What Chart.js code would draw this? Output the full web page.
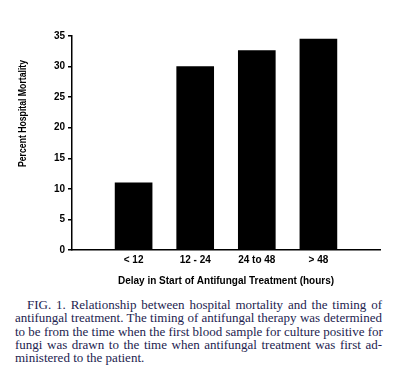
<!DOCTYPE html>
<html>
<head>
<meta charset="utf-8">
<script src="https://cdn.jsdelivr.net/npm/chart.js@4.4.0/dist/chart.umd.min.js"></script>
<style>
    body { margin: 0; background: #ffffff; }
    #quadro { position: relative; width: 411px; height: 372px; overflow: hidden; }
    #grafico-box { position: absolute; left: 0; top: 0; width: 411px; height: 290px; }
    #legenda {
        position: absolute; left: 15px; top: 298px; width: 367px;
        font-family: "Liberation Serif", "Times New Roman", serif;
        font-size: 13px; line-height: 13.3px; color: #23234f;
    }
    #legenda div { white-space: nowrap; text-align: justify; text-align-last: justify; }
    #legenda div.ultima { text-align-last: left; }
    #legenda div.primeira { margin-left: 12px; }
</style>
</head>
<body>
<div id="quadro">
    <div id="grafico-box"><canvas id="grafico"></canvas></div>
    <div id="legenda">
        <div class="primeira">FIG. 1. Relationship between hospital mortality and the timing of</div>
        <div>antifungal treatment. The timing of antifungal therapy was determined</div>
        <div>to be from the time when the first blood sample for culture positive for</div>
        <div>fungi was drawn to the time when antifungal treatment was first ad-</div>
        <div class="ultima">ministered to the patient.</div>
    </div>
</div>
<script>
let categorias = ['< 12', '12 - 24', '24 to 48', '> 48'];
let mortalidade = [11, 30, 32.6, 34.5];
let ticksY = [0, 5, 10, 15, 20, 25, 30, 35];

let tituloY = 'Percent Hospital Mortality';
let tituloX = 'Delay in Start of Antifungal Treatment (hours)';

// eixo x com uma posicao vazia em cada ponta, como no original
let rotulos = [''].concat(categorias).concat(['']);
let valores = [null].concat(mortalidade).concat([null]);

Chart.defaults.font.family = '"Liberation Sans", Arial, sans-serif';
Chart.defaults.color = '#000000';

// titulo do eixo y desenhado a mao (fica mais para cima e comprimido no original)
let pluginTituloY = {
    id: 'tituloY',
    afterDraw: function (chart) {
        let ctx = chart.ctx;
        let area = chart.chartArea;
        ctx.save();
        ctx.font = 'bold 11px "Liberation Sans", Arial, sans-serif';
        ctx.fillStyle = '#000000';
        ctx.textAlign = 'center';
        ctx.textBaseline = 'middle';
        let largura = ctx.measureText(tituloY).width;
        ctx.translate(22.5, area.top + 77.5);
        ctx.rotate(-Math.PI / 2);
        ctx.scale(107 / largura, 1);
        ctx.fillText(tituloY, 0, 0);
        ctx.restore();
    }
};

let config = {
    type: 'bar',
    data: {
        labels: rotulos,
        datasets: [{
            label: 'Mortalidade',
            data: valores,
            backgroundColor: '#000000',
            borderWidth: 0,
            barThickness: 37
        }]
    },
    options: {
        responsive: true,
        maintainAspectRatio: false,
        animation: false,
        layout: {
            padding: { left: 0, right: 31, top: 36, bottom: 0 }
        },
        plugins: {
            legend: { display: false },
            tooltip: { enabled: false },
            title: { display: false }
        },
        scales: {
            x: {
                type: 'category',
                offset: false,
                grid: { display: false, drawTicks: false, tickLength: 0 },
                border: { display: true, color: '#000000', width: 1.5 },
                ticks: {
                    font: { size: 10, weight: 'bold' },
                    color: '#000000',
                    padding: 4,
                    maxRotation: 0,
                    autoSkip: false
                },
                title: {
                    display: true,
                    text: tituloX,
                    font: { size: 10, weight: 'bold' },
                    color: '#000000',
                    padding: { top: 6, bottom: 3 }
                },
                afterFit: function (escala) {
                    escala.height = 40;
                }
            },
            y: {
                min: 0,
                max: 35,
                afterBuildTicks: function (escala) {
                    escala.ticks = ticksY.map(function (v) { return { value: v }; });
                },
                grid: {
                    drawOnChartArea: false,
                    drawTicks: true,
                    tickLength: 4,
                    color: '#000000',
                    lineWidth: 1.5
                },
                border: { display: true, color: '#000000', width: 1.5 },
                ticks: {
                    font: { size: 10, weight: 'bold' },
                    color: '#000000',
                    padding: 3
                },
                afterFit: function (escala) {
                    escala.width = 72;
                }
            }
        }
    },
    plugins: [pluginTituloY]
};

let meuGrafico = new Chart(document.getElementById('grafico'), config);
</script>
</body>
</html>
